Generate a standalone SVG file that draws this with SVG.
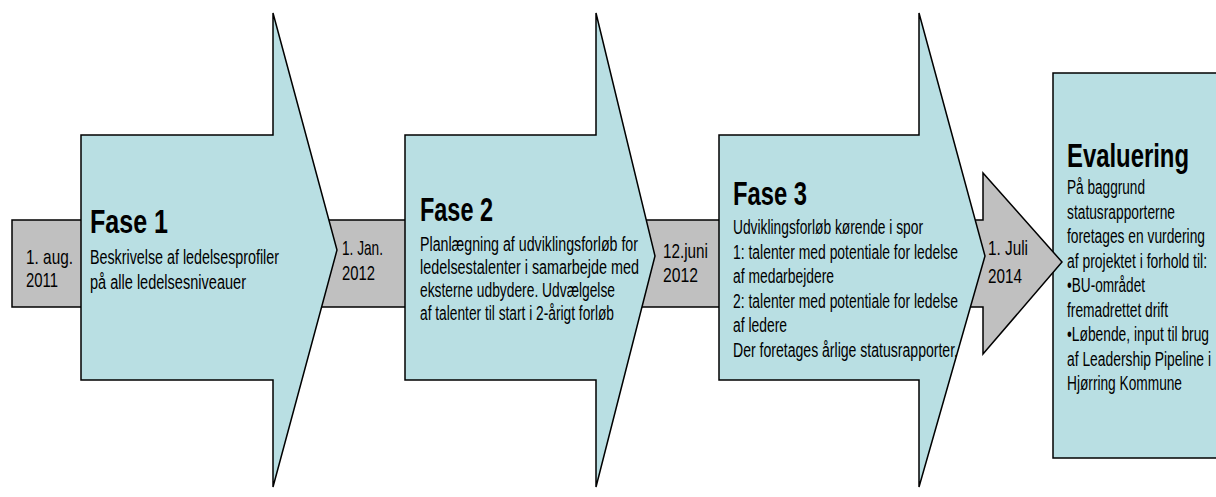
<svg xmlns="http://www.w3.org/2000/svg" width="1216" height="497" viewBox="0 0 1216 497">
  <style>
    .fase { fill: #B9DFE3; stroke: #000; stroke-width: 1.5; stroke-linejoin: miter; }
    .tid { fill: #C0C0C0; stroke: #000; stroke-width: 1.5; }
    text { font-family: "Liberation Sans", Arial, sans-serif; fill: #000; }
    .h { font-size: 34px; font-weight: bold; }
    .b { font-size: 20px; }
    .d { font-size: 21px; }
  </style>

  <rect width="1216" height="497" fill="#fff"/>

  <!-- Evaluering box (runs off the right edge) -->
  <g id="evaluering">
    <rect class="fase" x="1053" y="73" width="175" height="385"/>
  </g>

  <!-- Grey timeline arrow running behind the phases -->
  <g id="connectors">
    <polygon class="tid" points="12,220 983,220 983,173 1062,262 983,354 983,307 12,307"/>
  </g>

  <!-- Phase arrows -->
  <g id="fase1">
    <polygon class="fase" points="81,135 273,135 273,13 337,250 273,487 273,380 81,380"/>
    <text class="h" x="90" y="233" textLength="78" lengthAdjust="spacingAndGlyphs">Fase 1</text>
    <text class="b" x="90" y="264" textLength="189" lengthAdjust="spacingAndGlyphs">Beskrivelse af ledelsesprofiler</text>
    <text class="b" x="90" y="289" textLength="156" lengthAdjust="spacingAndGlyphs">på alle ledelsesniveauer</text>
  </g>

  <g id="fase2">
    <polygon class="fase" points="405,135 596,135 596,13 655,256 596,487 596,380 405,380"/>
    <text class="h" x="420" y="221" textLength="73" lengthAdjust="spacingAndGlyphs">Fase 2</text>
    <text class="b" x="420" y="251" textLength="218" lengthAdjust="spacingAndGlyphs">Planlægning af udviklingsforløb for</text>
    <text class="b" x="420" y="274" textLength="219" lengthAdjust="spacingAndGlyphs">ledelsestalenter i samarbejde med</text>
    <text class="b" x="420" y="297" textLength="195" lengthAdjust="spacingAndGlyphs">eksterne udbydere. Udvælgelse</text>
    <text class="b" x="420" y="320" textLength="194" lengthAdjust="spacingAndGlyphs">af talenter til start i 2-årigt forløb</text>
  </g>

  <g id="fase3">
    <polygon class="fase" points="719,135 919,135 919,13 985,256 919,487 919,380 719,380"/>
    <text class="h" x="733" y="205" textLength="74" lengthAdjust="spacingAndGlyphs">Fase 3</text>
    <text class="b" x="733" y="234" textLength="190" lengthAdjust="spacingAndGlyphs">Udviklingsforløb kørende i spor</text>
    <text class="b" x="733" y="259" textLength="225" lengthAdjust="spacingAndGlyphs">1: talenter med potentiale for ledelse</text>
    <text class="b" x="733" y="283" textLength="101" lengthAdjust="spacingAndGlyphs">af medarbejdere</text>
    <text class="b" x="733" y="308" textLength="225" lengthAdjust="spacingAndGlyphs">2: talenter med potentiale for ledelse</text>
    <text class="b" x="733" y="332" textLength="54" lengthAdjust="spacingAndGlyphs">af ledere</text>
    <text class="b" x="733" y="357" textLength="225" lengthAdjust="spacingAndGlyphs">Der foretages årlige statusrapporter.</text>
  </g>

  <!-- Evaluering text -->
  <g id="evaluering-tekst">
    <text class="h" x="1067" y="167" textLength="122" lengthAdjust="spacingAndGlyphs">Evaluering</text>
    <text class="b" x="1067" y="194" textLength="78" lengthAdjust="spacingAndGlyphs">På baggrund</text>
    <text class="b" x="1067" y="219" textLength="108" lengthAdjust="spacingAndGlyphs">statusrapporterne</text>
    <text class="b" x="1067" y="243" textLength="138" lengthAdjust="spacingAndGlyphs">foretages en vurdering</text>
    <text class="b" x="1067" y="268" textLength="140" lengthAdjust="spacingAndGlyphs">af projektet i forhold til:</text>
    <text class="b" x="1067" y="292" textLength="78" lengthAdjust="spacingAndGlyphs">•BU-området</text>
    <text class="b" x="1067" y="317" textLength="101" lengthAdjust="spacingAndGlyphs">fremadrettet drift</text>
    <text class="b" x="1067" y="341" textLength="142" lengthAdjust="spacingAndGlyphs">•Løbende, input til brug</text>
    <text class="b" x="1067" y="366" textLength="144" lengthAdjust="spacingAndGlyphs">af Leadership Pipeline i</text>
    <text class="b" x="1067" y="390" textLength="115" lengthAdjust="spacingAndGlyphs">Hjørring Kommune</text>
  </g>

  <!-- Dates on the timeline -->
  <g id="dato-2011">
    <text class="d" x="26" y="264" textLength="47" lengthAdjust="spacingAndGlyphs">1. aug.</text>
    <text class="d" x="26" y="287" textLength="32" lengthAdjust="spacingAndGlyphs">2011</text>
  </g>
  <g id="dato-jan-2012">
    <text class="d" x="342" y="255" textLength="41" lengthAdjust="spacingAndGlyphs">1. Jan.</text>
    <text class="d" x="342" y="280" textLength="33" lengthAdjust="spacingAndGlyphs">2012</text>
  </g>
  <g id="dato-juni-2012">
    <text class="d" x="663" y="258" textLength="45" lengthAdjust="spacingAndGlyphs">12.juni</text>
    <text class="d" x="663" y="282" textLength="35" lengthAdjust="spacingAndGlyphs">2012</text>
  </g>
  <g id="dato-2014">
    <text class="d" x="988" y="255" textLength="40" lengthAdjust="spacingAndGlyphs">1. Juli</text>
    <text class="d" x="988" y="283" textLength="34" lengthAdjust="spacingAndGlyphs">2014</text>
  </g>
</svg>
